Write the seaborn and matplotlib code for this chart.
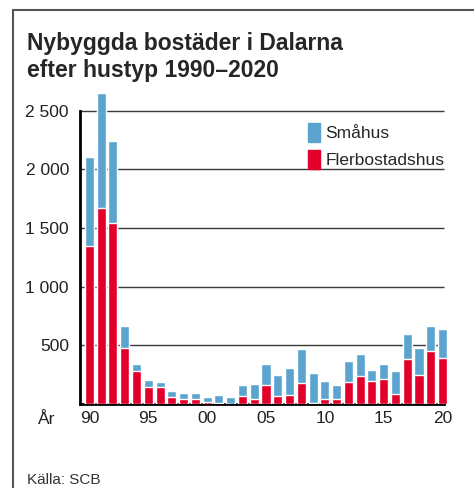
import numpy as np
import pandas as pd
import seaborn as sns
import matplotlib.pyplot as plt
from matplotlib.patches import Patch

# data (number of new dwellings)
years = list(range(1990, 2021))
flerbostadshus = [1346, 1670, 1542, 477, 278, 142, 142, 57, 40, 40,
                  17, 6, 3, 68, 40, 159, 68, 77, 176, 6,
                  40, 40, 185, 236, 193, 210, 82, 381, 244, 449, 389]
totalt = [2102, 2647, 2238, 662, 338, 202, 185, 108, 91, 91,
          57, 74, 57, 159, 168, 338, 244, 304, 466, 261,
          193, 159, 364, 423, 287, 338, 278, 594, 474, 662, 636]
smahus = [t - f for t, f in zip(totalt, flerbostadshus)]

y_ticks = [500, 1000, 1500, 2000, 2500]
y_labels = ['500', '1 000', '1 500', '2 000', '2 500']
x_ticks = [1990, 1995, 2000, 2005, 2010, 2015, 2020]
x_labels = ['90', '95', '00', '05', '10', '15', '20']

df = pd.DataFrame({'year': years, 'fler': flerbostadshus, 'smahus': smahus})
df['total'] = df.fler + df.smahus

blue = '#5ba4cf'
red = '#e2002a'

sns.set_theme(style='white')
plt.rcParams['font.family'] = ['Liberation Sans', 'DejaVu Sans']

fig = plt.figure(figsize=(4.74, 4.88), dpi=100)
ax = fig.add_axes([0.1688, 0.172, 0.776, 0.6495])

sns.barplot(data=df, x='year', y='total', color=blue, width=0.77,
            native_scale=True, saturation=1, ax=ax, zorder=3)
sns.barplot(data=df, x='year', y='fler', color=red, width=0.77,
            native_scale=True, saturation=1, ax=ax, zorder=4)

ax.set_xlim(1989.2, 2020.45)
ax.set_ylim(0, 2700)
ax.hlines(y_ticks, 1989.2, 2020.15, color='#3a3a3a', linewidth=1, zorder=1)

ax.set_yticks(y_ticks)
ax.set_yticklabels(y_labels, fontsize=12.5)
ax.set_xticks(x_ticks)
ax.set_xticklabels(x_labels, fontsize=12.5)
ax.tick_params(axis='y', length=0, pad=8, colors='#222222')
ax.tick_params(axis='x', length=0, pad=5, colors='#222222')
ax.set_xlabel('')
ax.set_ylabel('')

for s in ['top', 'right']:
    ax.spines[s].set_visible(False)
ax.spines['left'].set_bounds(0, 2500)
ax.spines['left'].set_linewidth(2)
ax.spines['left'].set_color('black')
ax.spines['bottom'].set_linewidth(2)
ax.spines['bottom'].set_color('black')
ax.spines['bottom'].set_bounds(1989.2, 2020.15)

fig.text(38 / 474, 1 - 419 / 488, 'År', fontsize=12.5, ha='left', va='center', color='#222222')

fig.text(27 / 474, 1 - 57 / 488, 'Nybyggda bostäder i Dalarna\nefter hustyp 1990–2020',
         fontsize=16.5, fontweight='bold', ha='left', va='center', linespacing=1.2)

fig.text(27 / 474, 1 - 487 / 488, 'Källa: SCB', fontsize=11, ha='left', va='bottom',
         color='#333333')

handles = [Patch(color=blue, label='Småhus'), Patch(color=red, label='Flerbostadshus')]
fig.legend(handles=handles, loc='upper left', bbox_to_anchor=(301 / 474, 1 - 116 / 488),
           frameon=False, fontsize=12.5, handlelength=0.7, handleheight=1.3,
           handletextpad=0.3, labelspacing=0.45, borderaxespad=0)

# outer frame
fig.add_artist(plt.Line2D([13 / 474, 1], [1 - 10 / 488, 1 - 10 / 488],
                          transform=fig.transFigure, color='#555555', linewidth=1.5))
fig.add_artist(plt.Line2D([13 / 474, 13 / 474], [0, 1 - 10 / 488],
                          transform=fig.transFigure, color='#555555', linewidth=1.5))

fig.savefig('out.png', dpi=100)
